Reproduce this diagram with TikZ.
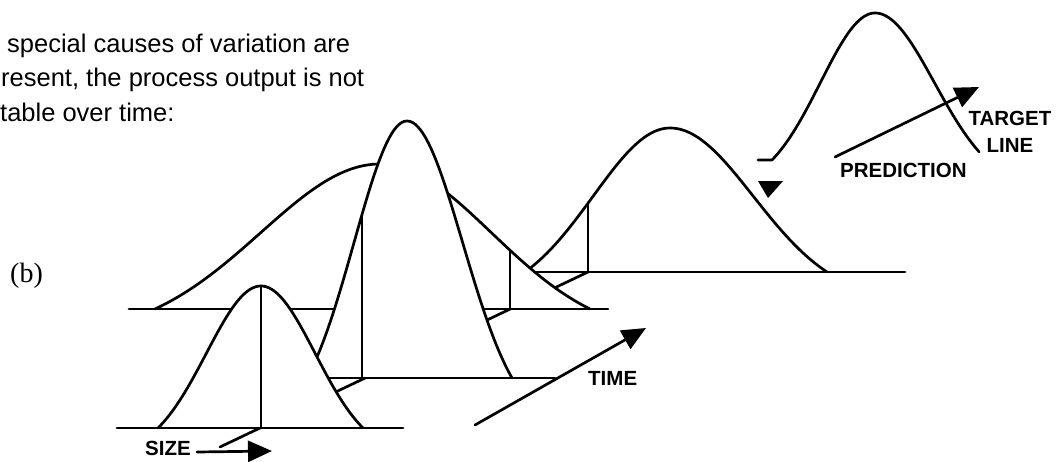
\documentclass[tikz,border=0pt]{standalone}
\usepackage{fontspec}
\setmainfont{Liberation Sans}
\newfontfamily\serifface{Liberation Serif}
\usetikzlibrary{arrows.meta}

\begin{document}
\begin{tikzpicture}[
  x=1pt,y=-1pt,
  declare function={bell(\u)=(exp(-1.78*\u*\u)-0.1687)/0.8313;},
  curve/.style={line width=2.7pt,line cap=round,line join=round},
  head/.style={-{Triangle[length=24pt,width=21pt]}},
  txt/.style={anchor=base west,inner sep=0pt,font=\fontsize{25.5}{30}\selectfont},
  lbl/.style={inner sep=0pt,font=\fontsize{20.5}{27}\selectfont\bfseries}
]
\useasboundingbox (0,0) rectangle (1062,461);

\node[txt] (line1) at (7,52) {special causes of variation are};
\node[txt] (line2) at (1,86.5) {resent, the process output is not};
\node[txt] (line3) at (0,121) {table over time:};
\node[anchor=base west,inner sep=0pt,font=\serifface\fontsize{28}{30}\selectfont] (b) at (10,282) {(b)};

\coordinate (axis0) at (220,447);
\coordinate (axis1) at (588,272);
\draw[curve] (axis0) -- (axis1);

\foreach \px/\base/\hgt/\wl/\wr/\cx/\bl/\br in {
  670/272/144/145/157/588/500/905,
  380/309/145/225/210/510/129/608,
  407/378/257/100/105/362/300/555,
  261/428/142/103/102/261/117/403}
{
  \fill[white] plot[variable=\t,domain=-1:0,samples=40] ({\px+\t*\wl},{\base-\hgt*bell(\t)})
    -- plot[variable=\t,domain=0:1,samples=40] ({\px+\t*\wr},{\base-\hgt*bell(\t)}) -- cycle;
  \draw[curve] (\bl,\base) -- (\br,\base);
  \draw[curve] plot[variable=\t,domain=-1:0,samples=40] ({\px+\t*\wl},{\base-\hgt*bell(\t)})
    -- plot[variable=\t,domain=0:1,samples=40] ({\px+\t*\wr},{\base-\hgt*bell(\t)});
  \draw[curve] (\cx,\base) -- ({\cx},{\base-\hgt*bell((\cx-\px)/ifthenelse(\cx<\px,\wl,\wr))});
}

\node[lbl,anchor=base west] (size) at (145,455) {SIZE};
\coordinate (size0) at (197,452);
\coordinate (size1) at (272,451);
\draw[curve,head] (size0) -- (size1);

\node[lbl,anchor=base west] (time) at (588,385) {TIME};
\coordinate (time0) at (475,425);
\coordinate (time1) at (646,328);
\draw[curve,head] (time0) -- (time1);

\fill (758,181) -- (783,181) -- (768,198) -- cycle;

\draw[curve] (758,160) -- (772,160)
  -- plot[variable=\t,domain=-1:0,samples=40] ({875+\t*103},{160-147*bell(\t)})
  -- plot[variable=\t,domain=0:0.93,samples=40] ({875+\t*112},{160-147*bell(\t)});

\node[lbl,anchor=base west] (pred) at (840,177) {PREDICTION};
\coordinate (pred0) at (835,157);
\coordinate (pred1) at (979,87);
\draw[curve,head] (pred0) -- (pred1);
\node[lbl,align=center,anchor=north] (target) at (1010,110.5) {TARGET\\LINE};
\end{tikzpicture}
\end{document}
